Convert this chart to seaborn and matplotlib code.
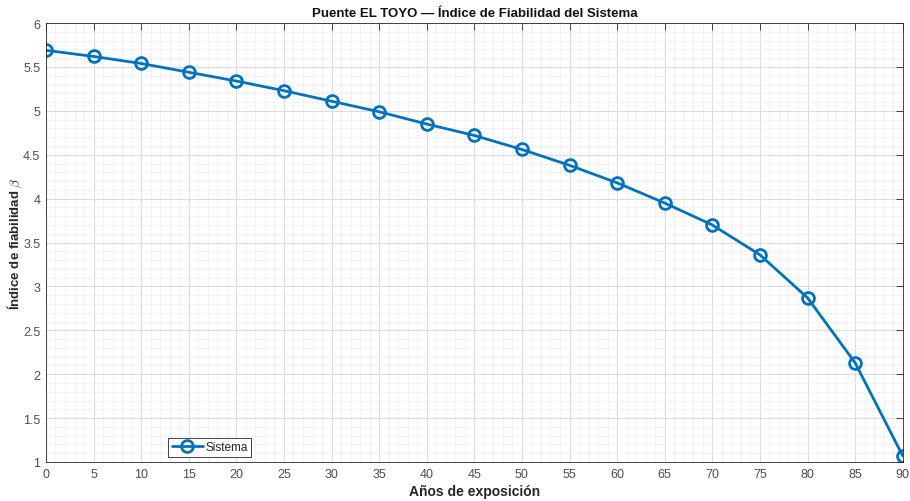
import matplotlib
matplotlib.use("Agg")
import matplotlib.pyplot as plt
import seaborn as sns
import pandas as pd
from matplotlib.ticker import MultipleLocator

anios = [0, 5, 10, 15, 20, 25, 30, 35, 40, 45, 50, 55, 60, 65, 70, 75, 80, 85, 90]
beta = [5.69, 5.62, 5.54, 5.44, 5.34, 5.23, 5.11, 4.99, 4.85, 4.72, 4.56,
        4.38, 4.18, 3.95, 3.70, 3.36, 2.87, 2.13, 1.07]
serie = "Sistema"
titulo = "Puente EL TOYO — Índice de Fiabilidad del Sistema"
xlab = "Años de exposición"
ylab = r"Índice de fiabilidad $\beta$"

df = pd.DataFrame({"x": anios, "y": beta, "s": serie})

sns.set_theme(style="white")
plt.rcParams["font.family"] = ["Liberation Sans", "DejaVu Sans"]
plt.rcParams["mathtext.fontset"] = "cm"

fig = plt.figure(figsize=(9.1, 5.02), dpi=100)
ax = fig.add_axes([0.0505, 0.0777, 0.9415, 0.8743])

sns.lineplot(data=df, x="x", y="y", hue="s", palette=["#0072BD"], marker="o",
             markersize=8.5, markerfacecolor="none", markeredgecolor="#0072BD",
             markeredgewidth=2, linewidth=2, ax=ax)

ax.set_xlim(0, 90)
ax.set_ylim(1, 6)
ax.xaxis.set_major_locator(MultipleLocator(5))
ax.xaxis.set_minor_locator(MultipleLocator(1))
ax.yaxis.set_major_locator(MultipleLocator(0.5))
ax.yaxis.set_minor_locator(MultipleLocator(0.1))
ax.set_yticks([1, 1.5, 2, 2.5, 3, 3.5, 4, 4.5, 5, 5.5, 6])
ax.set_yticklabels(["1", "1.5", "2", "2.5", "3", "3.5", "4", "4.5", "5", "5.5", "6"])

ax.grid(True, which="major", color="#dcdcdc", linewidth=0.8)
ax.grid(True, which="minor", color="#f0f0f0", linewidth=0.6)
ax.set_axisbelow(True)

for sp in ax.spines.values():
    sp.set_color("#262626")
    sp.set_linewidth(0.6)
    sp.set_visible(True)

ax.tick_params(which="major", direction="in", length=5, width=0.6, color="#262626",
               top=True, right=True, labelsize=9, labelcolor="#4d4d4d", pad=4)
ax.tick_params(which="minor", length=0, top=True, right=True)

ax.set_title(titulo, fontsize=9.5, fontweight="bold", color="#111111", pad=5)
ax.set_xlabel(xlab, fontsize=10, fontweight="bold", color="#262626", labelpad=3)
ax.set_ylabel(ylab, fontsize=9.5, fontweight="bold", color="#262626", labelpad=2)
ax.yaxis.set_label_coords(-0.026, 0.5)

leg = ax.legend(loc="lower left", bbox_to_anchor=(0.143, 0.012), fontsize=8.5,
                frameon=True, fancybox=False, edgecolor="#262626", framealpha=1,
                borderpad=0.3, handlelength=2.6, handletextpad=0.2, borderaxespad=0)
leg.get_frame().set_linewidth(0.6)

fig.savefig("out.png", dpi=100)
